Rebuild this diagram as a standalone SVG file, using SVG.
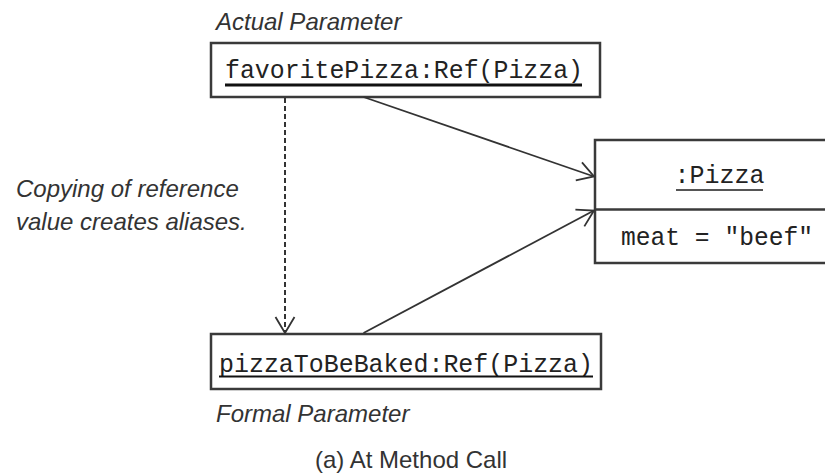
<svg xmlns="http://www.w3.org/2000/svg" width="825" height="476" viewBox="0 0 825 476">
<style>
.box{fill:#fff;stroke:#3a3a3a;stroke-width:2.5}
.mono{font-family:"Liberation Mono","DejaVu Sans Mono",monospace;font-size:25px;fill:#222}
.note{font-family:"Liberation Sans",Arial,sans-serif;font-style:italic;font-size:24px;fill:#333}
.cap{font-family:"Liberation Sans",Arial,sans-serif;font-size:24px;fill:#333}
.ul{stroke:#111}
.conn{fill:none;stroke:#333;stroke-width:1.8}
.dash{stroke-dasharray:5 3;stroke-width:2}
</style>
<defs>
<marker id="open" markerUnits="userSpaceOnUse" markerWidth="20" markerHeight="22" refX="17" refY="11" orient="auto">
<path d="M1,1.5 L17,11 L1,20.5" fill="none" stroke="#333" stroke-width="1.8"/>
</marker>
</defs>
<text class="note" x="216" y="30">Actual Parameter</text>
<g id="actual">
<rect class="box" x="211" y="43" width="389" height="54"/>
<text class="mono" x="225" y="78" textLength="358" lengthAdjust="spacingAndGlyphs">favoritePizza:Ref(Pizza)</text>
<line class="ul" x1="225" y1="85" x2="582" y2="85" stroke-width="3"/>
</g>
<g id="pizza">
<rect class="box" x="595" y="140" width="240" height="123"/>
<line class="box" x1="595" y1="209.5" x2="830" y2="209.5"/>
<text class="mono" x="719.5" y="183" text-anchor="middle">:Pizza</text>
<line x1="676" y1="190" x2="763" y2="190" stroke="#555" stroke-width="2"/>
<text class="mono" x="621" y="245" textLength="192" lengthAdjust="spacingAndGlyphs">meat = "beef"</text>
</g>
<g id="formal">
<rect class="box" x="211" y="334" width="390" height="55"/>
<text class="mono" x="219" y="372" textLength="374" lengthAdjust="spacingAndGlyphs">pizzaToBeBaked:Ref(Pizza)</text>
<line class="ul" x1="219" y1="376.5" x2="593" y2="376.5" stroke-width="1.8"/>
</g>
<text class="note" x="216" y="422">Formal Parameter</text>
<g id="note">
<text class="note" x="16" y="197">Copying of reference</text>
<text class="note" x="16" y="230">value creates aliases.</text>
</g>
<g id="connectors">
<line class="conn dash" x1="285" y1="98" x2="285" y2="333" marker-end="url(#open)"/>
<line class="conn" x1="363.5" y1="97" x2="594" y2="176.5" marker-end="url(#open)"/>
<line class="conn" x1="363.5" y1="333" x2="594" y2="210.5" marker-end="url(#open)"/>
</g>
<text class="cap" x="315" y="468">(a) At Method Call</text>
</svg>
